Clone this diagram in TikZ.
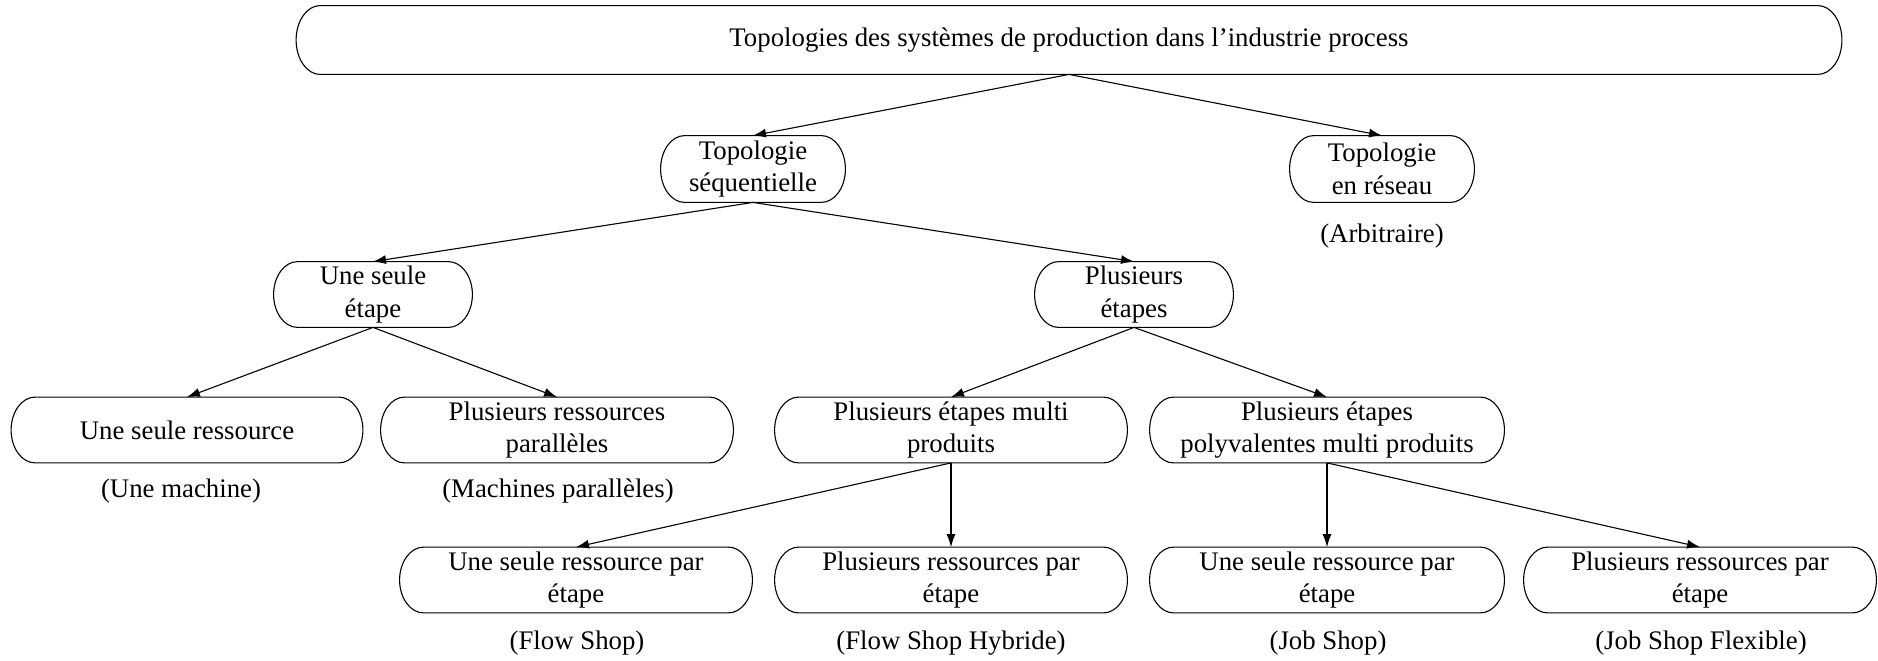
\documentclass[tikz,border=0pt]{standalone}
\usepackage{fontspec}
\setmainfont{Liberation Serif}
\usetikzlibrary{arrows.meta,calc}
\begin{document}
\begin{tikzpicture}[x=0.5pt,y=0.5pt,
  every node/.style={font=\fontsize{13.4}{16.2}\selectfont},
  box/.style={minimum width=#1, minimum height=32.5pt, inner sep=0pt, align=center},
  lbl/.style={inner sep=0pt},
  boxline/.style={line width=0.55pt},
  arr/.style={line width=0.55pt,-{Latex[length=6.5pt,width=4.5pt]}}]
\useasboundingbox (0,0) rectangle (1878,-660);
% nodes
\node[box=772.5pt,minimum height=34pt] (top) at (1069,-40) {Topologies des systèmes de production dans l’industrie process};
\node[box=92pt,minimum height=33pt] (seq) at (753,-169) {Topologie\\séquentielle};
\node[box=92pt,minimum height=33pt] (res) at (1382,-169) {Topologie\\en réseau};
\node[lbl] (arb) at (1382,-236) {(Arbitraire)};
\node[box=99pt] (une) at (373,-294.5) {Une seule\\étape};
\node[box=99pt] (plus) at (1134,-294.5) {Plusieurs\\étapes};
\node[box=175.5pt] (r1) at (187,-430) {Une seule ressource};
\node[box=176pt] (r2) at (557,-430) {Plusieurs ressources\\parallèles};
\node[box=176pt] (r3) at (951,-430) {Plusieurs étapes multi\\produits};
\node[box=177pt] (r4) at (1327,-430) {Plusieurs étapes\\polyvalentes multi produits};
\node[lbl] (l1) at (181,-491) {(Une machine)};
\node[lbl] (l2) at (558,-491) {(Machines parallèles)};
\node[box=176pt] (b1) at (576,-580) {Une seule ressource par\\étape};
\node[box=176pt] (b2) at (951,-580) {Plusieurs ressources par\\étape};
\node[box=177pt] (b3) at (1327,-580) {Une seule ressource par\\étape};
\node[box=176pt] (b4) at (1700,-580) {Plusieurs ressources par\\étape};
\node[lbl] (l3) at (577,-643) {(Flow Shop)};
\node[lbl] (l4) at (951,-643) {(Flow Shop Hybride)};
\node[lbl] (l5) at (1328,-643) {(Job Shop)};
\node[lbl] (l6) at (1701,-643) {(Job Shop Flexible)};
% outlines
\foreach \nd in {top,seq,res,une,plus,r1,r2,r3,r4,b1,b2,b3,b4}{
  \draw[boxline] let \p1=(\nd.north west), \p2=(\nd.south east), \n1={(\y1-\y2)/2} in
    (\x1+12pt,\y1) -- (\x2-12pt,\y1)
    arc[start angle=90,end angle=-90,x radius=12pt,y radius={\n1*1pt}]
    -- (\x1+12pt,\y2)
    arc[start angle=270,end angle=90,x radius=12pt,y radius={\n1*1pt}] -- cycle;
}
% connectors
\draw[arr] (top.south) -- (seq.north);
\draw[arr] (top.south) -- (res.north);
\draw[arr] (seq.south) -- (une.north);
\draw[arr] (seq.south) -- (plus.north);
\draw[arr] (une.south) -- (r1.north);
\draw[arr] (une.south) -- (r2.north);
\draw[arr] (plus.south) -- (r3.north);
\draw[arr] (plus.south) -- (r4.north);
\draw[arr] (r3.south) -- (b1.north);
\draw[arr] (r3.south) -- (b2.north);
\draw[arr] (r4.south) -- (b3.north);
\draw[arr] (r4.south) -- (b4.north);
\end{tikzpicture}
\end{document}
